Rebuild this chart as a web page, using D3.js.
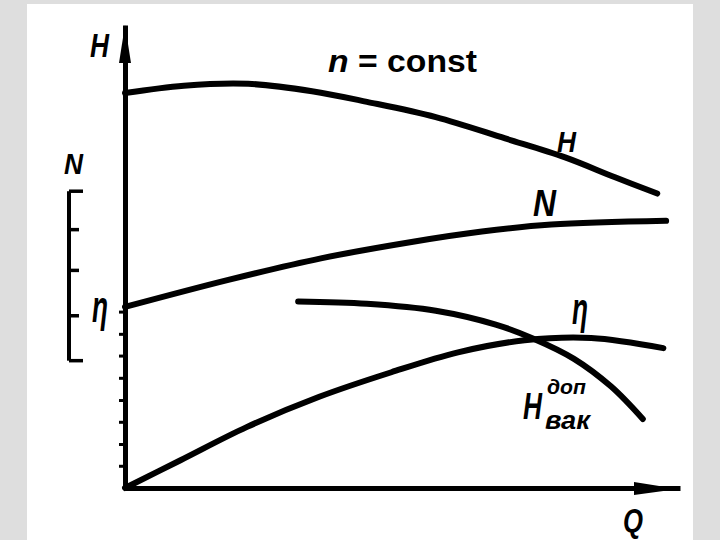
<!DOCTYPE html>
<html>
<head>
<meta charset="utf-8">
<script src="https://cdn.jsdelivr.net/npm/d3@7"></script>
<style>
  body { margin: 0; background: #dedede; }
  text { font-family: "Liberation Sans", Arial, sans-serif; font-weight: bold; fill: #000; }
</style>
</head>
<body>
<div id="chart"></div>
<script>
// readings, Q in % of the axis, values in % of the vertical axis
var hQ   = [0, 10.6, 22.2, 33.7, 43.6, 56, 68.5, 79.3, 88.3, 95.9];
var hVal = [85.3, 86.9, 87.3, 85.7, 83.4, 80.1, 75.5, 71.4, 67.1, 63.6];

var nQ   = [0, 18.8, 35.3, 51.9, 64.3, 76.8, 97.5];
var nVal = [39.1, 45.0, 49.6, 53.2, 55.4, 56.9, 57.7];

var etaQ   = [0, 10, 22, 35, 48, 60, 72, 84, 97];
var etaVal = [0, 6, 13.2, 19.7, 25, 29.3, 31.9, 32.4, 30.2];

var vakQ   = [31.2, 43.6, 56, 66.8, 73.5, 80.9, 87.6, 93.3];
var vakVal = [40.3, 39.8, 38.3, 35.3, 32.3, 27.9, 21.9, 14.9];

var yTicks = [4.8, 9.5, 14.3, 19.0, 23.8, 28.6, 33.3, 38.1];
var nScaleTicks = [27.5, 37.2, 47, 55.8, 64.1];

var width = 720, height = 540;

var svg = d3.select("#chart")
  .append("svg")
    .attr("width", width)
    .attr("height", height);

svg.append("rect")
  .attr("width", width).attr("height", height)
  .attr("fill", "#dedede");
svg.append("rect")
  .attr("x", 27).attr("y", 4)
  .attr("width", 666).attr("height", 536)
  .attr("fill", "#fff");

var x = d3.scaleLinear()
  .domain([0, 100])
  .range([125, 680]);

var y = d3.scaleLinear()
  .domain([0, 100])
  .range([488, 25]);

// axes
var yAxis = svg.append("g")
  .attr("transform", "translate(" + x(0) + ",0)")
  .call(d3.axisLeft(y).tickValues(yTicks).tickSize(6).tickSizeOuter(0).tickFormat(""));
yAxis.select(".domain").attr("stroke", "#000").attr("stroke-width", 5);
yAxis.selectAll(".tick line").attr("stroke", "#000").attr("stroke-width", 3);

var xAxis = svg.append("g")
  .attr("transform", "translate(0," + y(0) + ")")
  .call(d3.axisBottom(x).tickValues([]).tickSizeOuter(0));
xAxis.select(".domain").attr("stroke", "#000").attr("stroke-width", 5);

// arrow heads
svg.append("path")
  .attr("d", "M" + x(0) + "," + y(100) + "L" + (x(0) - 6) + "," + (y(100) + 38) +
             "L" + (x(0) + 6) + "," + (y(100) + 38) + "Z")
  .attr("fill", "#000");
svg.append("path")
  .attr("d", "M" + (x(100) - 2) + "," + (y(0) + 1) + "L" + (x(100) - 46) + "," + (y(0) - 6) +
             "L" + (x(100) - 46) + "," + (y(0) + 7) + "Z")
  .attr("fill", "#000");

// N scale bracket on the left
var bx = 69;
svg.append("line")
  .attr("x1", bx).attr("x2", bx)
  .attr("y1", y(d3.min(nScaleTicks))).attr("y2", y(d3.max(nScaleTicks)))
  .attr("stroke", "#000").attr("stroke-width", 4);
svg.selectAll(".nscale")
  .data(nScaleTicks)
  .enter()
  .append("line")
    .attr("x1", bx)
    .attr("x2", function (d, i) { return (i == 0 || i == nScaleTicks.length - 1) ? bx + 14 : bx + 10; })
    .attr("y1", function (d) { return y(d); })
    .attr("y2", function (d) { return y(d); })
    .attr("stroke", "#000")
    .attr("stroke-width", 3.5);

// curves
var line = d3.line()
  .x(function (d) { return x(d.q); })
  .y(function (d) { return y(d.v); })
  .curve(d3.curveCatmullRom.alpha(0.5));

function pts(qs, vs) {
  return qs.map(function (q, i) { return {q: q, v: vs[i]}; });
}

[pts(hQ, hVal), pts(nQ, nVal), pts(etaQ, etaVal), pts(vakQ, vakVal)].forEach(function (s) {
  svg.append("path")
    .datum(s)
    .attr("d", line)
    .attr("fill", "none")
    .attr("stroke", "#000")
    .attr("stroke-width", 6)
    .attr("stroke-linecap", "round");
});

// labels
function label(txt, px, py, size, len, italic) {
  var t = svg.append("text")
    .attr("x", px).attr("y", py)
    .attr("font-size", size)
    .attr("font-style", italic ? "italic" : "normal")
    .text(txt);
  if (len) t.attr("textLength", len).attr("lengthAdjust", "spacingAndGlyphs");
  return t;
}

label("H", 90, 57, 33, 19, true);
label("N", 64, 174, 29, 19, true);
label("η", 92, 322, 44, 16, true);

var title = svg.append("text")
  .attr("x", 328).attr("y", 72)
  .attr("font-size", 31);
title.append("tspan").attr("font-style", "italic").text("n");
title.append("tspan").text(" = const");
title.attr("textLength", 149).attr("lengthAdjust", "spacingAndGlyphs");

label("H", 557, 152, 30, 19, true);
label("N", 533, 216, 36, 23, true);
label("η", 572, 324, 44, 16, true);

label("H", 523, 419, 36, 19, true);
label("доп", 547, 394, 20, 39, true);
label("вак", 545, 429, 26, 45, true);

label("Q", 623, 532, 34, 20, true);
</script>
</body>
</html>
